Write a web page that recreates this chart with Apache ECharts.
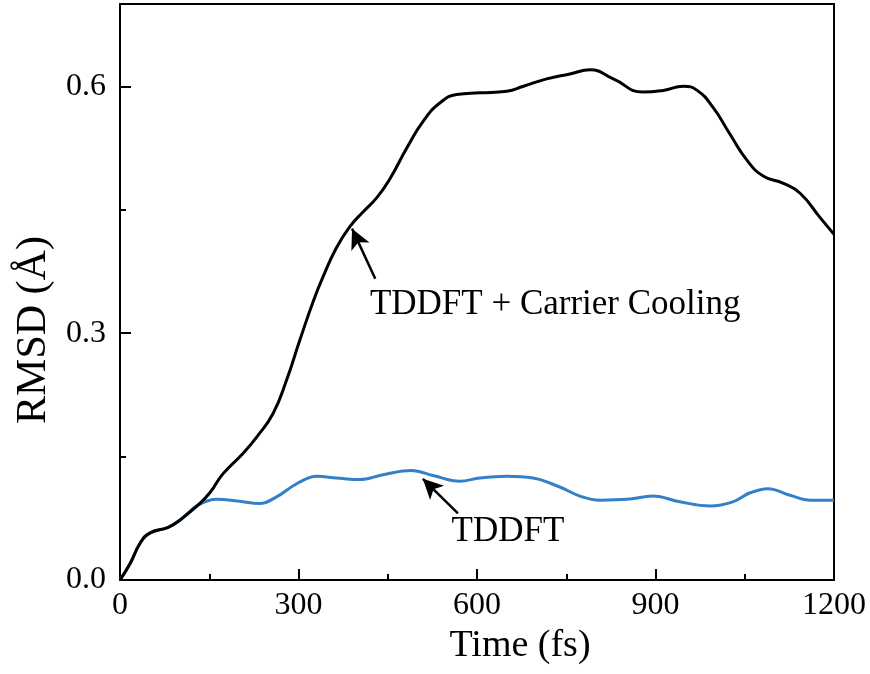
<!DOCTYPE html>
<html>
<head>
<meta charset="utf-8">
<script src="https://cdn.jsdelivr.net/npm/echarts@6/dist/echarts.min.js"></script>
<style>
  html, body { margin: 0; padding: 0; background: #fff; }
  #chart { width: 870px; height: 674px; }
</style>
</head>
<body>
<div id="chart"></div>
<script>
// TDDFT + carrier cooling (black)
const coolTime = [0, 17, 34, 50, 81, 101, 131, 151, 173, 207, 230, 257, 280, 302, 325, 341, 364, 387, 408, 432, 454, 482, 510, 538, 566, 605, 650, 678, 717, 756, 790, 829, 879, 913, 947, 970, 997, 1025, 1054, 1081, 1115, 1143, 1176, 1200]
const coolRmsd = [0, 0.02, 0.045, 0.057, 0.064, 0.073, 0.091, 0.106, 0.129, 0.154, 0.174, 0.202, 0.243, 0.291, 0.339, 0.368, 0.404, 0.43, 0.447, 0.465, 0.488, 0.525, 0.558, 0.58, 0.59, 0.592, 0.594, 0.6, 0.609, 0.615, 0.62, 0.609, 0.593, 0.595, 0.6, 0.595, 0.574, 0.542, 0.51, 0.491, 0.482, 0.47, 0.441, 0.42]

// plain TDDFT (blue)
const tddftTime = [0, 17, 34, 50, 81, 101, 131, 163, 197, 235, 263, 297, 331, 364, 403, 442, 490, 526, 571, 605, 650, 694, 739, 773, 807, 852, 896, 941, 992, 1030, 1059, 1089, 1126, 1160, 1200]
const tddftRmsd = [0, 0.02, 0.045, 0.057, 0.064, 0.073, 0.091, 0.098, 0.096, 0.093, 0.101, 0.117, 0.126, 0.124, 0.122, 0.128, 0.133, 0.127, 0.12, 0.124, 0.126, 0.124, 0.113, 0.102, 0.097, 0.098, 0.102, 0.095, 0.09, 0.095, 0.106, 0.111, 0.103, 0.097, 0.097]

const xTicks = [0, 300, 600, 900, 1200]
const yTicks = [0, 0.3, 0.6]

// annotations, in data units: [tail, tip] of arrows, text anchors
const coolArrow = [[429, 0.366], [390, 0.427]]
const tddftArrow = [[568, 0.081], [509, 0.123]]
const coolLabel = ['TDDFT + Carrier Cooling', [420, 0.334]]
const tddftLabel = ['TDDFT', [652, 0.058]]

const font = "'Liberation Serif', 'Times New Roman', serif"
const chart = echarts.init(document.getElementById('chart'))

function pairs(xs, ys) {
  return xs.map((x, i) => [x, ys[i]])
}

function arrow(pts) {
  return {
    silent: true,
    symbol: ['none', 'arrow'],
    symbolSize: [15, 20],
    label: { show: false },
    lineStyle: { color: '#000', width: 2.5, type: 'solid' },
    data: [[{ coord: pts[0] }, { coord: pts[1] }]],
  }
}

function textMark(lbl, pos) {
  return {
    silent: true,
    symbol: 'circle',
    symbolSize: 0,
    data: [{
      coord: lbl[1],
      label: {
        show: true,
        position: pos,
        distance: 0,
        formatter: lbl[0],
        fontFamily: font,
        fontSize: 35,
        color: '#000',
      },
    }],
  }
}

const tickCommon = {
  inside: true,
  lineStyle: { color: '#000', width: 2 },
}

chart.setOption({
  animation: false,
  backgroundColor: '#fff',
  grid: {
    left: 120,
    right: 36,
    top: 4,
    bottom: 94,
    show: true,
    borderColor: '#000',
    borderWidth: 2,
  },
  xAxis: {
    type: 'value',
    min: 0,
    max: 1200,
    interval: 300,
    name: 'Time (fs)',
    nameLocation: 'middle',
    nameGap: 44,
    nameTextStyle: { fontFamily: font, fontSize: 38, color: '#000', padding: [0, 0, 0, 86] },
    axisLine: { lineStyle: { color: '#000', width: 2 } },
    axisTick: { ...tickCommon, length: 11 },
    minorTick: { show: true, splitNumber: 2, length: 6, lineStyle: { color: '#000', width: 2 } },
    splitLine: { show: false },
    minorSplitLine: { show: false },
    axisLabel: {
      margin: 10,
      fontFamily: font,
      fontSize: 32,
      color: '#000',
      formatter: v => (xTicks.includes(v) ? String(v) : ''),
    },
  },
  yAxis: [
    {
      type: 'value',
      min: 0,
      max: 0.7,
      interval: 0.3,
      name: 'RMSD (Å)',
      nameLocation: 'middle',
      nameGap: 64,
      nameTextStyle: { fontFamily: font, fontSize: 42, color: '#000', padding: [0, 76, 0, 0] },
      axisLine: { lineStyle: { color: '#000', width: 2 } },
      axisTick: { ...tickCommon, length: 11 },
      splitLine: { show: false },
      axisLabel: {
        margin: 14,
        showMaxLabel: false,
        fontFamily: font,
        fontSize: 32,
        color: '#000',
        formatter: v => (yTicks.some(t => Math.abs(t - v) < 1e-6) ? v.toFixed(1) : ''),
      },
    },
    {
      // minor ticks only
      type: 'value',
      position: 'left',
      min: 0,
      max: 0.7,
      interval: 0.15,
      axisLine: { show: false },
      axisTick: { ...tickCommon, length: 6 },
      axisLabel: { show: false },
      splitLine: { show: false },
    },
  ],
  series: [
    {
      name: 'TDDFT',
      type: 'line',
      data: pairs(tddftTime, tddftRmsd),
      smooth: 0.4,
      showSymbol: false,
      z: 2,
      lineStyle: { color: '#3480c8', width: 3 },
      markLine: arrow(tddftArrow),
      markPoint: textMark(tddftLabel, 'inside'),
    },
    {
      name: 'TDDFT + Carrier Cooling',
      type: 'line',
      data: pairs(coolTime, coolRmsd),
      smooth: 0.5,
      showSymbol: false,
      z: 3,
      lineStyle: { color: '#000', width: 3 },
      markLine: arrow(coolArrow),
      markPoint: textMark(coolLabel, 'right'),
    },
  ],
})
</script>
</body>
</html>
